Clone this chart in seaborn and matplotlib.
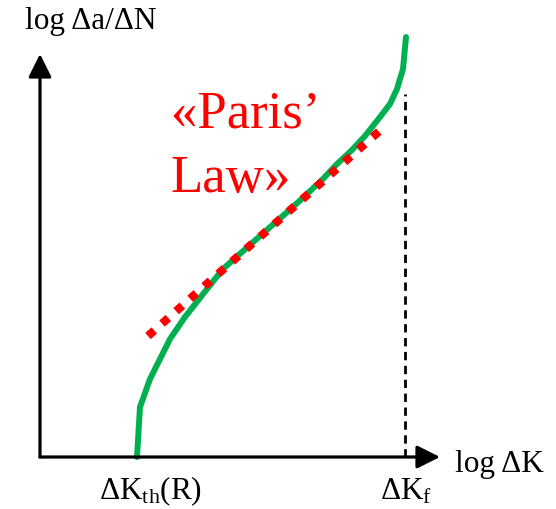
import matplotlib
matplotlib.use("Agg")
import matplotlib.pyplot as plt
import seaborn as sns
import pandas as pd

# schematic data (plot units, y upward)
curve_x = [137, 140, 150, 155, 170, 185, 207, 223, 260, 294, 322, 336, 351, 365, 380, 390, 397, 403, 406]
curve_y = [52, 102, 130, 140, 170, 192, 220, 240, 273, 303, 329, 344, 358, 373, 392, 405, 420, 440, 472]
paris_x = [148, 384]
paris_y = [173, 382]
dk_f_x = 405
dk_f_top = 415

sns.set_theme(style="white")
plt.rcParams['font.family'] = ['Liberation Serif', 'DejaVu Serif']
plt.rcParams['mathtext.fontset'] = 'custom'
plt.rcParams['mathtext.rm'] = 'Liberation Serif'
plt.rcParams['mathtext.it'] = 'Liberation Serif:italic'

fig = plt.figure(figsize=(5.56, 5.10), dpi=100)
ax = fig.add_axes([0, 0, 1, 1])

# axes with arrows
ax.annotate('', xy=(440, 52), xytext=(40, 52),
            arrowprops=dict(arrowstyle='-|>,head_length=0.7,head_width=0.35',
                            lw=2.3, color='black', mutation_scale=20, shrinkA=0, shrinkB=0))
ax.annotate('', xy=(40, 455), xytext=(40, 52),
            arrowprops=dict(arrowstyle='-|>,head_length=0.7,head_width=0.35',
                            lw=2.3, color='black', mutation_scale=20, shrinkA=0, shrinkB=0))

# dashed line at ΔK_f
ax.plot([dk_f_x, dk_f_x], [52, dk_f_top], color='black', lw=2.0, ls=(0, (3, 2.0)))

df_c = pd.DataFrame({'x': curve_x, 'y': curve_y})
sns.lineplot(data=df_c, x='x', y='y', sort=False, ax=ax, color='#00B050', lw=4.3,
             solid_capstyle='round')

df_p = pd.DataFrame({'x': paris_x, 'y': paris_y})
sns.lineplot(data=df_p, x='x', y='y', sort=False, ax=ax, color='#FF0000', lw=6.0,
             ls=(0, (1, 1.25)), dash_capstyle='butt')

ax.set_xlim(0, 556)
ax.set_ylim(0, 510)
ax.axis('off')

ax.text(25, 481, 'log Δa/ΔN', fontsize=22.5, ha='left', va='baseline', color='black')
ax.text(455, 38, 'log ΔK', fontsize=22.5, ha='left', va='baseline', color='black')
ax.text(99, 11, r'ΔK$_{\mathrm{th}}$(R)', fontsize=22.5, ha='left', va='baseline', color='black')
ax.text(380, 10, r'ΔK$_{\mathrm{f}}$', fontsize=22.5, ha='left', va='baseline', color='black')
ax.text(171, 382, '«Paris’', fontsize=38, ha='left', va='baseline', color='#FF0000')
ax.text(171, 318, 'Law»', fontsize=38, ha='left', va='baseline', color='#FF0000')

fig.savefig('out.png', dpi=100)
